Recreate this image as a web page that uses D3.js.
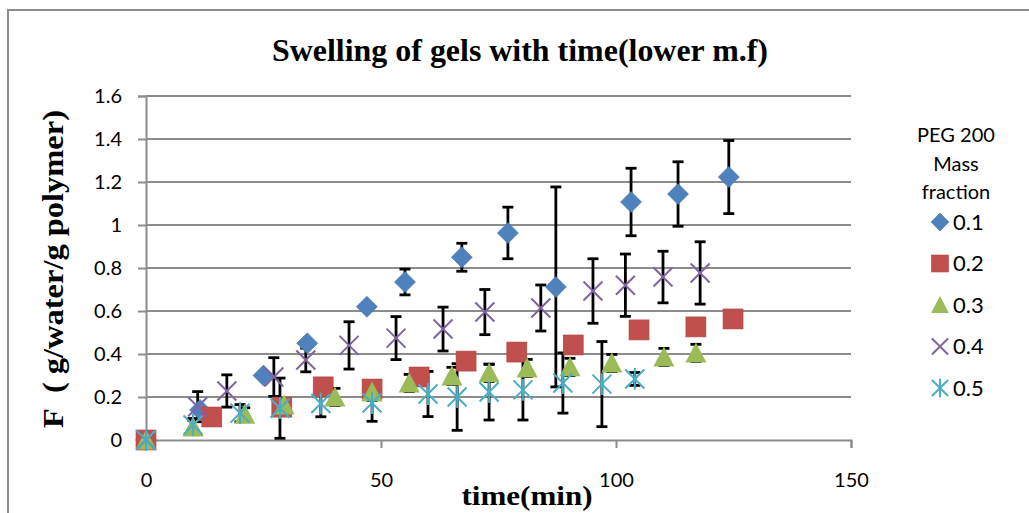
<!DOCTYPE html>
<html>
<head>
<meta charset="utf-8">
<script src="https://cdn.jsdelivr.net/npm/d3@7"></script>
<style>
  html, body { margin: 0; padding: 0; background: #fff; }
  svg { display: block; }
</style>
</head>
<body>
<svg id="chart" width="1029" height="513"></svg>
<script>
// PEG 200 mass fractions (legend entries)
const fractions = ["0.1", "0.2", "0.3", "0.4", "0.5"];
const colors = ["#4F81BD", "#C0504D", "#9BBB59", "#8064A2", "#4BACC6"];
const shapes = ["diamond", "square", "triangle", "x", "star"];

// Swelling F (g water / g polymer) against time (min), with error half-widths
const time01 = [0, 11.5, 25, 34.3, 47, 55.1, 67.2, 77, 87.2, 103.2, 113.2, 124];
const swell01 = [0, 0.14, 0.30, 0.45, 0.62, 0.735, 0.85, 0.963, 0.712, 1.107, 1.144, 1.223];
const err01 = [0, 0, 0, 0, 0, 0.06, 0.065, 0.12, 0.465, 0.157, 0.15, 0.17];

const time02 = [0, 14, 28.9, 37.7, 48.1, 58.1, 68.1, 78.9, 90.9, 104.9, 117, 124.9];
const swell02 = [0, 0.107, 0.153, 0.247, 0.237, 0.293, 0.367, 0.409, 0.442, 0.512, 0.526, 0.563];
const err02 = [0, 0, 0, 0, 0, 0, 0, 0, 0, 0, 0, 0];

const time03 = [0, 10, 21, 29.4, 40.2, 48.1, 56, 65.1, 73, 81.1, 90.2, 99.1, 110.2, 117];
const swell03 = [0, 0.06, 0.12, 0.163, 0.2, 0.223, 0.265, 0.298, 0.312, 0.335, 0.34, 0.358, 0.386, 0.405];
const err03 = [0, 0.03, 0.03, 0.03, 0.04, 0.04, 0.04, 0.04, 0.04, 0.04, 0.04, 0.04, 0.04, 0.04];

const time04 = [0, 11, 17.2, 27.2, 34, 43.2, 53.2, 63.2, 72.1, 84, 95.1, 102, 110, 117.9];
const swell04 = [0, 0.155, 0.228, 0.293, 0.372, 0.44, 0.474, 0.516, 0.595, 0.614, 0.693, 0.72, 0.758, 0.777];
const err04 = [0, 0.07, 0.075, 0.09, 0.055, 0.11, 0.1, 0.102, 0.105, 0.107, 0.15, 0.145, 0.12, 0.145];

const time05 = [0, 10, 20, 28.5, 37.2, 48.1, 60, 66.2, 73, 80.2, 88.7, 97, 104];
const swell05 = [0, 0.07, 0.125, 0.148, 0.17, 0.172, 0.214, 0.2, 0.223, 0.233, 0.265, 0.26, 0.284];
const err05 = [0, 0.03, 0.04, 0.14, 0.062, 0.085, 0.105, 0.155, 0.13, 0.14, 0.14, 0.198, 0.03];

const xTicks = [0, 50, 100, 150];
const yTicks = [0, 0.2, 0.4, 0.6, 0.8, 1, 1.2, 1.4, 1.6];

const seriesTimes = [time01, time02, time03, time04, time05];
const seriesValues = [swell01, swell02, swell03, swell04, swell05];
const seriesErrors = [err01, err02, err03, err04, err05];

const series = fractions.map((name, i) => ({
  name, color: colors[i], shape: shapes[i],
  points: seriesTimes[i].map((t, j) => ({ t, v: seriesValues[i][j], e: seriesErrors[i][j] }))
}));

const svg = d3.select("#chart");
const grid = "#8c8c8c";
const sansFont = "Lato, 'Liberation Sans', sans-serif";
const serifFont = "'Liberation Serif', 'DejaVu Serif', serif";

// chart frame
svg.append("rect")
  .attr("x", 8).attr("y", 10).attr("width", 1040).attr("height", 520)
  .attr("fill", "#fff").attr("stroke", grid).attr("stroke-width", 2);

const x = d3.scaleLinear().domain([0, 150]).range([146, 851]);
const y = d3.scaleLinear().domain([0, 1.6]).range([440, 96]);

// horizontal gridlines
svg.append("g").selectAll("line").data(yTicks.filter(d => d > 0)).join("line")
  .attr("x1", x(0)).attr("x2", x(150))
  .attr("y1", d => y(d)).attr("y2", d => y(d))
  .attr("stroke", grid).attr("stroke-width", 2);

// y axis
const yAxis = svg.append("g").attr("transform", `translate(${x(0)},0)`)
  .call(d3.axisLeft(y).tickValues(yTicks).tickSize(8).tickPadding(16)
    .tickFormat(d => d3.format("")(+d.toFixed(1))));
yAxis.select(".domain").attr("stroke", grid).attr("stroke-width", 2);
yAxis.selectAll(".tick line").attr("stroke", grid).attr("stroke-width", 2);
yAxis.selectAll(".tick text").attr("fill", "#000")
  .style("font-family", sansFont).style("font-size", "20px");

// x axis
const xAxis = svg.append("g").attr("transform", `translate(0,${y(0)})`)
  .call(d3.axisBottom(x).tickValues(xTicks).tickSize(8).tickPadding(25));
xAxis.select(".domain").attr("stroke", grid).attr("stroke-width", 2);
xAxis.selectAll(".tick line").attr("stroke", grid).attr("stroke-width", 2);
xAxis.selectAll(".tick text").attr("fill", "#000")
  .style("font-family", sansFont).style("font-size", "20px");

// error bars, beneath all markers
const capHalf = 5.5;
const errG = svg.append("g").attr("stroke", "#000").attr("stroke-width", 2.8).attr("fill", "none");
series.forEach(s => {
  s.points.filter(p => p.e > 0).forEach(p => {
    const cx = x(p.t), y1 = y(p.v + p.e), y2 = y(p.v - p.e);
    errG.append("line").attr("x1", cx).attr("x2", cx).attr("y1", y1).attr("y2", y2);
    errG.append("line").attr("x1", cx - capHalf).attr("x2", cx + capHalf).attr("y1", y1).attr("y2", y1);
    errG.append("line").attr("x1", cx - capHalf).attr("x2", cx + capHalf).attr("y1", y2).attr("y2", y2);
  });
});

// marker drawing
function drawMarker(g, shape, color, cx, cy, scale) {
  const k = scale || 1;
  if (shape === "diamond") {
    const r = 10.5 * k;
    g.append("path").attr("d", `M${cx},${cy - r}L${cx + r},${cy}L${cx},${cy + r}L${cx - r},${cy}Z`)
      .attr("fill", color).attr("stroke", d3.color(color).darker(0.3)).attr("stroke-width", 0.6);
  } else if (shape === "square") {
    const r = 10 * k;
    g.append("rect").attr("x", cx - r).attr("y", cy - r).attr("width", 2 * r).attr("height", 2 * r)
      .attr("fill", color).attr("stroke", d3.color(color).darker(0.3)).attr("stroke-width", 0.6);
  } else if (shape === "triangle") {
    const r = 10.5 * k;
    g.append("path").attr("d", `M${cx},${cy - r}L${cx + r},${cy + r * 0.9}L${cx - r},${cy + r * 0.9}Z`)
      .attr("fill", color);
  } else if (shape === "x") {
    const r = 9.5 * k;
    g.append("path").attr("d", `M${cx - r},${cy - r}L${cx + r},${cy + r}M${cx - r},${cy + r}L${cx + r},${cy - r}`)
      .attr("stroke", color).attr("stroke-width", 2).attr("fill", "none");
  } else if (shape === "star") {
    const r = 9.5 * k;
    g.append("path").attr("d", `M${cx - r},${cy - r}L${cx + r},${cy + r}M${cx - r},${cy + r}L${cx + r},${cy - r}M${cx},${cy - r * 1.15}L${cx},${cy + r * 1.15}`)
      .attr("stroke", color).attr("stroke-width", 2).attr("fill", "none");
  }
}

const markG = svg.append("g");
series.forEach(s => {
  s.points.forEach(p => drawMarker(markG, s.shape, s.color, x(p.t), y(p.v)));
});

// title
svg.append("text").attr("x", 520).attr("y", 61).attr("text-anchor", "middle")
  .attr("textLength", 496).attr("lengthAdjust", "spacingAndGlyphs")
  .style("font-family", serifFont).style("font-weight", "bold").style("font-size", "31px")
  .text("Swelling of gels with time(lower m.f)");

// axis titles
svg.append("text").attr("x", 527).attr("y", 505).attr("text-anchor", "middle")
  .attr("textLength", 131).attr("lengthAdjust", "spacingAndGlyphs")
  .style("font-family", serifFont).style("font-weight", "bold").style("font-size", "28px")
  .text("time(min)");

svg.append("text").attr("transform", "translate(63,269) rotate(-90)").attr("text-anchor", "middle")
  .attr("textLength", 318).attr("lengthAdjust", "spacingAndGlyphs")
  .attr("xml:space", "preserve").style("white-space", "pre")
  .style("font-family", serifFont).style("font-weight", "bold").style("font-size", "30px")
  .text("F  ( g/water/g polymer)");

// legend
const legend = svg.append("g");
["PEG 200", "Mass", "fraction"].forEach((line, i) => {
  legend.append("text").attr("x", 956).attr("y", 142 + i * 28.5).attr("text-anchor", "middle")
    .style("font-family", sansFont).style("font-size", "20px").attr("fill", "#000")
    .text(line);
});
series.forEach((s, i) => {
  const ly = 222 + i * 41.5;
  drawMarker(legend, s.shape, s.color, 940, ly, 0.85);
  legend.append("text").attr("x", 953).attr("y", ly).attr("dy", "0.35em")
    .style("font-family", sansFont).style("font-size", "22px").attr("fill", "#000")
    .text(s.name);
});
</script>
</body>
</html>
